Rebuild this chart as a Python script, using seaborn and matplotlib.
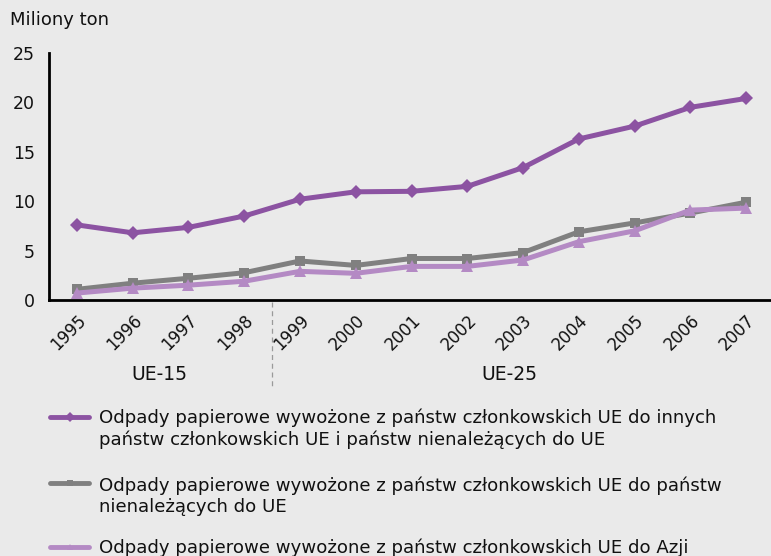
import matplotlib
matplotlib.use("Agg")
import matplotlib.pyplot as plt
from matplotlib.lines import Line2D
import seaborn as sns
import pandas as pd
import numpy as np

years = ["1995", "1996", "1997", "1998", "1999", "2000", "2001", "2002", "2003", "2004", "2005", "2006", "2007"]
eu_all = [7.6, 6.8, 7.35, 8.5, 10.2, 10.95, 11.0, 11.5, 13.4, 16.3, 17.6, 19.5, 20.4]
eu_nonEU = [1.08, 1.7, 2.2, 2.76, 3.95, 3.5, 4.2, 4.2, 4.8, 6.9, 7.8, 8.8, 9.9]
eu_asia = [0.7, 1.2, 1.5, 1.9, 2.9, 2.7, 3.4, 3.4, 4.05, 5.9, 7.0, 9.1, 9.3]
labels = [
    "Odpady papierowe wywożone z państw członkowskich UE do innych\npaństw członkowskich UE i państw nienależących do UE",
    "Odpady papierowe wywożone z państw członkowskich UE do państw\nnienależących do UE",
    "Odpady papierowe wywożone z państw członkowskich UE do Azji",
]
groups = ["UE-15", "UE-25"]

colors = ["#8C53A2", "#808080", "#B48AC4"]
markers = ["D", "s", "^"]
msizes = [7.5, 7.5, 9]

bg = "#EAEAEA"
sns.set_theme(style="white")
plt.rcParams["font.family"] = ["DejaVu Sans"]

W, H = 771, 556
fig = plt.figure(figsize=(W / 100, H / 100), dpi=100, facecolor=bg)
ax = fig.add_axes([49 / W, (H - 300) / H, (774 - 49) / W, (300 - 53) / H])
ax.set_facecolor(bg)

x = np.arange(len(years))
for vals, c, m, ms, lab in zip([eu_all, eu_nonEU, eu_asia], colors, markers, msizes, labels):
    df = pd.DataFrame({"x": x, "y": vals})
    sns.lineplot(data=df, x="x", y="y", ax=ax, color=c, lw=3.6, marker=m,
                 markersize=ms, markeredgewidth=0, legend=False, zorder=3)

ax.set_xlim(-0.5, len(years) - 0.5)
ax.set_ylim(0, 25)
ax.set_yticks([0, 5, 10, 15, 20, 25])
ax.set_yticklabels(["0", "5", "10", "15", "20", "25"], fontsize=12.5, color="#111111")
ax.set_xticks(x)
ax.set_xticklabels(years, rotation=45, ha="right", rotation_mode="anchor", fontsize=12, color="#111111")
ax.set_xticks(np.arange(-0.5, len(years), 1), minor=True)
ax.tick_params(axis="x", which="major", length=0, pad=8)
ax.tick_params(axis="x", which="minor", length=5, width=1.5, color="black", direction="out")
ax.tick_params(axis="y", which="major", length=6, width=1.5, color="black", direction="out", pad=4)
ax.set_xlabel("")
ax.set_ylabel("")
for s in ["top", "right"]:
    ax.spines[s].set_visible(False)
for s in ["left", "bottom"]:
    ax.spines[s].set_color("black")
    ax.spines[s].set_linewidth(2)

# group separator and labels
fig.add_artist(Line2D([271.5 / W, 271.5 / W], [1 - 302 / H, 1 - 388 / H], color="#9A9A9A",
                      lw=0.9, ls=(0, (4, 3))))
fig.text(159 / W, 1 - 374 / H, groups[0], ha="center", va="center", fontsize=13.5, color="#111111")
fig.text(509 / W, 1 - 374 / H, groups[1], ha="center", va="center", fontsize=13.5, color="#111111")

fig.text(10 / W, 1 - 20 / H, "Miliony ton", ha="left", va="center", fontsize=13, color="#111111")

# legend
leg_y = [417, 483, 547]
base_y = [445, 512, 553]
for yy, by, c, m, lab in zip(leg_y, base_y, colors, markers, labels):
    fig.add_artist(Line2D([50 / W, 89 / W], [1 - yy / H, 1 - yy / H], color=c, lw=3.5))
    fig.add_artist(Line2D([70 / W], [1 - yy / H], color=c, marker=m, markersize=5, markeredgewidth=0))
    fig.text(99 / W, 1 - by / H, lab, ha="left", va="baseline", fontsize=13.1,
             color="#111111", linespacing=1.22)

fig.savefig("out.png", dpi=100, facecolor=bg)
